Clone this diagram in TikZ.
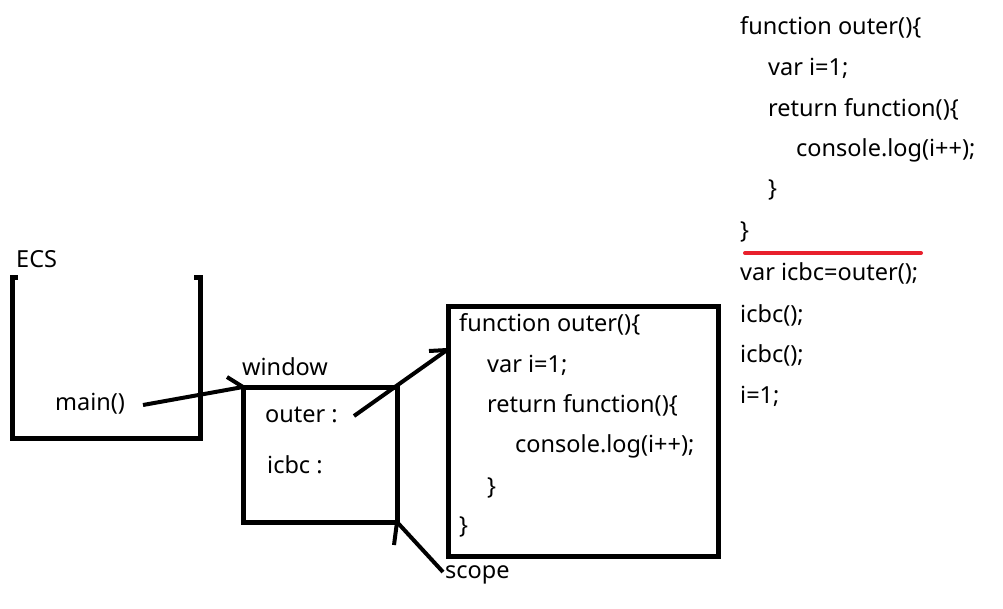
\documentclass[tikz,border=0pt]{standalone}
\usepackage{fontspec}
\setmainfont{Noto Sans}
\definecolor{redline}{RGB}{232,32,44}
\begin{document}
\begin{tikzpicture}[x=1pt,y=-1pt,
  txt/.style={anchor=west, inner sep=0pt, font=\fontsize{23.5}{27}\selectfont},
  thk/.style={line width=5pt},
  box/.style={draw, line width=5pt, outer sep=0pt, inner sep=0pt},
  arr/.style={line width=4pt},
]
\useasboundingbox (0,0) rectangle (1003,608);
% ECS
\node[txt] (ecs) at (16,259) {ECS};
\draw[thk] (18,277) -- (12,277) -- (12,438) -- (200,438) -- (200,277) -- (194,277);
\node[txt] (main) at (55,404) {main()};
% window
\node[txt] (winlbl) at (242,367) {window};
\node[box, minimum width=154pt, minimum height=135pt] (win) at (320,454.5) {};
\node[txt] (outer) at (265,415) {outer :};
\node[txt] (icbc) at (267,465) {icbc :};
% code box
\node[box, minimum width=270pt, minimum height=250pt] (code) at (583,431) {};
\node[txt] (c1) at (459,324) {function outer()\{};
\node[txt] (c2) at (487,365) {var i=1;};
\node[txt] (c3) at (487,405) {return function()\{};
\node[txt] (c4) at (515,446) {console.log(i++);};
\node[txt] (c5) at (487,488) {\}};
\node[txt] (c6) at (459,527) {\}};
% scope
\node[txt] (scope) at (445,575) {scope};
% arrows
\coordinate (s1) at (143,405);
\coordinate (a1) at (227,377);
\draw[arr] (s1) -- (win.north west);
\draw[arr] (a1) -- (win.north west);
\coordinate (s2) at (354,416);
\coordinate (cin) at (447,350);
\coordinate (a2) at (429,351);
\draw[arr] (s2) -- (cin);
\draw[arr] (a2) -- (cin);
\coordinate (s3) at (443,572);
\coordinate (a3) at (394,545);
\draw[arr] (s3) -- (win.south east);
\draw[arr] (a3) -- (win.south east);
% right code
\node[txt] (r1) at (740,27) {function outer()\{};
\node[txt] (r2) at (768,68) {var i=1;};
\node[txt] (r3) at (768,109) {return function()\{};
\node[txt] (r4) at (796,150) {console.log(i++);};
\node[txt] (r5) at (768,190) {\}};
\node[txt] (r6) at (740,232) {\}};
\draw[redline, line width=4pt, line cap=round] (745,253) -- (921,253);
\node[txt] (r7) at (740,273) {var icbc=outer();};
\node[txt] (r8) at (740,315) {icbc();};
\node[txt] (r9) at (740,355) {icbc();};
\node[txt] (r10) at (740,396) {i=1;};
\end{tikzpicture}
\end{document}
